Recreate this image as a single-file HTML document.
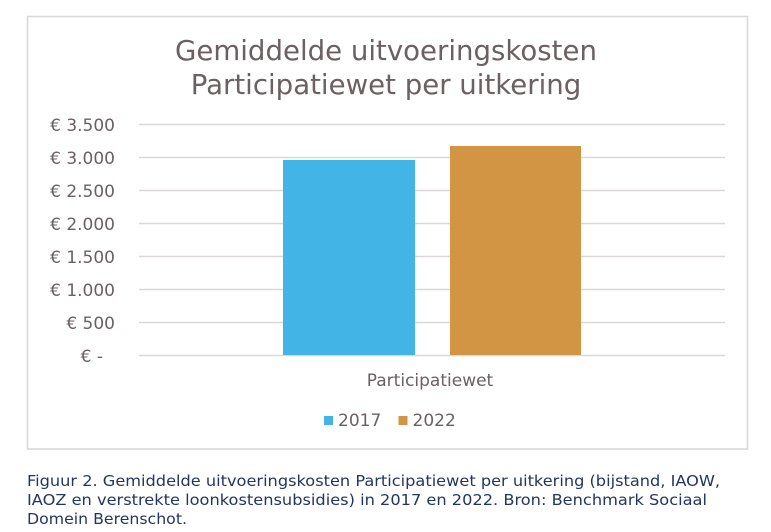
<!DOCTYPE html>
<html>
<head>
<meta charset="utf-8">
<style>
html,body{margin:0;padding:0;background:#ffffff;}
svg{display:block;}
text{font-family:"DejaVu Sans","Liberation Sans",sans-serif;}
</style>
</head>
<body>
<svg width="771" height="532" viewBox="0 0 771 532" xmlns="http://www.w3.org/2000/svg">
  <rect x="0" y="0" width="771" height="532" fill="#ffffff"/>
  <!-- chart frame -->
  <rect x="27.5" y="16.5" width="720" height="432.5" fill="#ffffff" stroke="#d9d9d9" stroke-width="1.6"/>

  <!-- title -->
  <text x="386" y="60" font-size="27.6" fill="#6b6062" text-anchor="middle">Gemiddelde uitvoeringskosten</text>
  <text x="386" y="94" font-size="27.6" fill="#6b6062" text-anchor="middle">Participatiewet per uitkering</text>

  <!-- gridlines -->
  <g stroke="#dcd8d9" stroke-width="1.5">
    <line x1="139" y1="124.5" x2="725" y2="124.5"/>
    <line x1="139" y1="157.5" x2="725" y2="157.5"/>
    <line x1="139" y1="190.5" x2="725" y2="190.5"/>
    <line x1="139" y1="223.5" x2="725" y2="223.5"/>
    <line x1="139" y1="256.5" x2="725" y2="256.5"/>
    <line x1="139" y1="289.5" x2="725" y2="289.5"/>
    <line x1="139" y1="322.5" x2="725" y2="322.5"/>
    <line x1="139" y1="355.5" x2="725" y2="355.5"/>
  </g>

  <!-- y labels -->
  <g font-size="17" fill="#6b6062" text-anchor="end">
    <text x="115" y="131">€ 3.500</text>
    <text x="115" y="164">€ 3.000</text>
    <text x="115" y="197">€ 2.500</text>
    <text x="115" y="230">€ 2.000</text>
    <text x="115" y="263">€ 1.500</text>
    <text x="115" y="296">€ 1.000</text>
    <text x="115" y="329">€ 500</text>
    <text x="103" y="362">€ -</text>
  </g>

  <!-- bars -->
  <rect x="283" y="160" width="132" height="195" fill="#42b4e6"/>
  <rect x="450" y="146" width="131" height="209" fill="#d29544"/>

  <!-- category label -->
  <text x="430" y="386" font-size="17" fill="#6b6062" text-anchor="middle">Participatiewet</text>

  <!-- legend -->
  <rect x="324" y="416" width="9" height="9" fill="#42b4e6"/>
  <text x="338" y="426" font-size="17" fill="#6b6062">2017</text>
  <rect x="398.5" y="416" width="9" height="9" fill="#d29544"/>
  <text x="412.5" y="426" font-size="17" fill="#6b6062">2022</text>

  <!-- caption -->
  <g font-size="15.5" fill="#243560">
    <text x="27" y="486" textLength="693" lengthAdjust="spacingAndGlyphs">Figuur 2. Gemiddelde uitvoeringskosten Participatiewet per uitkering (bijstand, IAOW,</text>
    <text x="27" y="505" textLength="680" lengthAdjust="spacingAndGlyphs">IAOZ en verstrekte loonkostensubsidies) in 2017 en 2022. Bron: Benchmark Sociaal</text>
    <text x="27" y="524" textLength="160" lengthAdjust="spacingAndGlyphs">Domein Berenschot.</text>
  </g>
</svg>
</body>
</html>
